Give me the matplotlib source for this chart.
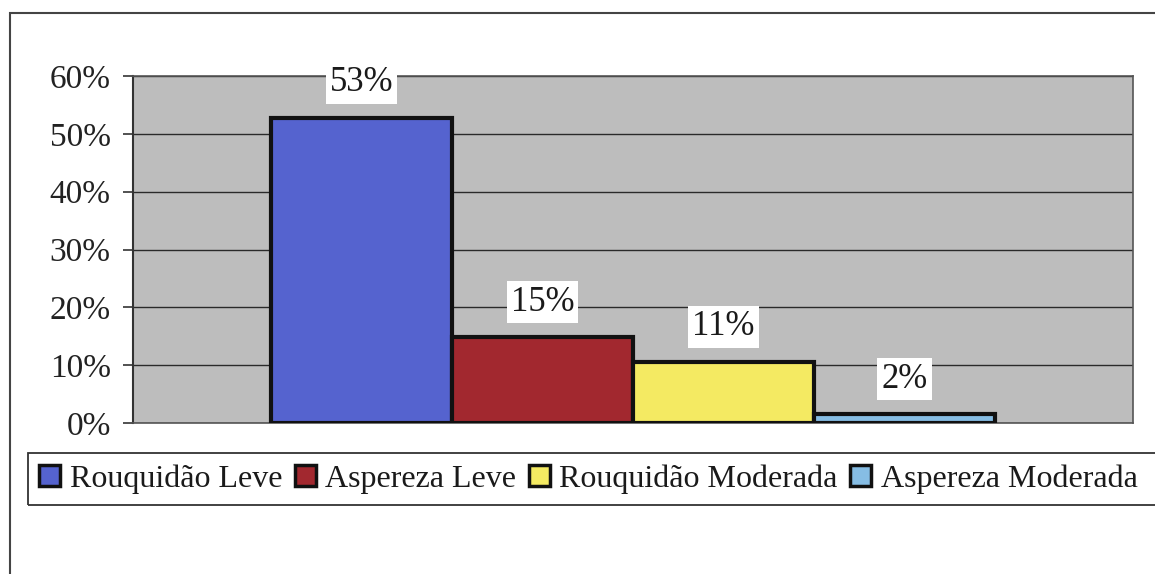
import matplotlib
matplotlib.use("Agg")
import matplotlib.pyplot as plt
from matplotlib.patches import Rectangle, Patch

# ---- data ----
categories = ["Rouquidão Leve", "Aspereza Leve", "Rouquidão Moderada", "Aspereza Moderada"]
values = [0.528, 0.149, 0.106, 0.016]
yticks = [0.0, 0.1, 0.2, 0.3, 0.4, 0.5, 0.6]
ytick_labels = ["0%", "10%", "20%", "30%", "40%", "50%", "60%"]
colors = ["#5563cf", "#a2282f", "#f4ea62", "#86bde4"]

plt.rcParams["font.family"] = ["Liberation Serif", "DejaVu Serif"]

W, H = 1155, 574
fig = plt.figure(figsize=(W / 100, H / 100), dpi=100)
fig.patch.set_facecolor("white")

# outer chart frame (extends past right/bottom edges)
fig.patches.append(Rectangle((10 / W, -0.05), 1.2, 1 - 13 / H + 0.05,
                             transform=fig.transFigure, fill=False,
                             edgecolor="#444444", lw=1.5))

ax = fig.add_axes([133 / W, 1 - 423 / H, 1000 / W, 347 / H])
ax.set_facecolor("#bdbdbd")
ax.set_xlim(-0.5, 0.5)
ax.set_ylim(0, 0.6)

bw = 0.181
n = len(values)
xs = [(i - (n - 1) / 2) * bw for i in range(n)]
ax.set_axisbelow(True)
ax.yaxis.grid(True, color="#2a2a2a", lw=1.0)
bars = ax.bar(xs, values, width=bw, color=colors, edgecolor="#111111",
              linewidth=3, zorder=3)

for x, v in zip(xs, values):
    ax.annotate(f"{v * 100:.0f}%", (x, v), xytext=(0, 25),
                textcoords="offset points", ha="center", va="center",
                fontsize=25, color="#1a1a1a", zorder=5,
                bbox=dict(boxstyle="square,pad=0.12", fc="white", ec="none"))

ax.set_yticks(yticks)
ax.set_yticklabels(ytick_labels, fontsize=24, color="#222222")
ax.set_xticks([])
ax.tick_params(axis="y", length=7, width=1.2, color="#333333", pad=9)
for s in ["top", "right", "bottom"]:
    ax.spines[s].set_color("#555555")
    ax.spines[s].set_linewidth(1.2)
ax.spines["left"].set_color("#333333")
ax.spines["left"].set_linewidth(1.5)

# legend box (extends past right edge)
fig.patches.append(Rectangle((28 / W, 1 - 505 / H), 1.2, 52 / H,
                             transform=fig.transFigure, fill=False,
                             edgecolor="#333333", lw=1.3))
handles = [Patch(facecolor=c, edgecolor="#111111", linewidth=2.5) for c in colors]
fig.legend(handles, categories, loc="center left",
           bbox_to_anchor=(20 / W, 1 - 479 / H), ncol=4, frameon=False,
           fontsize=23, handlelength=0.65, handleheight=0.65,
           handletextpad=0.3, columnspacing=0.4, borderpad=0.1,
           labelcolor="#1a1a1a")

fig.savefig("out.png", dpi=100)
